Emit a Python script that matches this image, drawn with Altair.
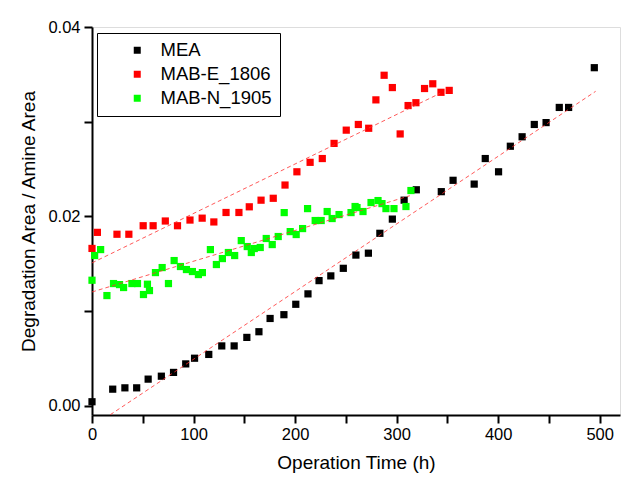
import altair as alt
import pandas as pd

# ---- data ----
mea_x = [0, 20.4, 32.4, 44, 55.3, 68.3, 80.3, 92.3, 101, 115, 127.8, 140, 152.5, 164.4,
         175.4, 189, 200.7, 212.7, 223.6, 235.2, 247.5, 259.9, 272.2, 283.5, 295.8, 307.4,
         319.4, 344, 355.6, 376.4, 387.3, 400.4, 412, 423.6, 435.6, 447.2, 460.2, 469.4, 494.7]
mea_y = [0.0004, 0.00173, 0.00187, 0.00187, 0.00279, 0.0031, 0.0035, 0.0044, 0.0050, 0.0054,
         0.0063, 0.0063, 0.0072, 0.0078, 0.0092, 0.0096, 0.0107, 0.0118, 0.0132, 0.0137,
         0.0145, 0.0159, 0.0161, 0.0182, 0.0197, 0.0217, 0.0228, 0.0226, 0.0238, 0.0234,
         0.0261, 0.0247, 0.0274, 0.0284, 0.0297, 0.0299, 0.0315, 0.0315, 0.0357]

mabe_x = [0, 5.3, 24.6, 36.3, 50.4, 60.2, 72.2, 84.2, 96.5, 108.5, 120, 132, 144.7, 154.9,
          166.5, 178.5, 190.1, 201.8, 214.8, 226.8, 238.4, 250.4, 262.3, 272.5, 279.6, 287.7,
          295.8, 303.5, 311.3, 319, 327.5, 335.6, 343.7, 351.8]
mabe_y = [0.0166, 0.0183, 0.0181, 0.0181, 0.0190, 0.0190, 0.0195, 0.0190, 0.0196, 0.0198,
          0.0194, 0.0204, 0.0204, 0.0210, 0.0217, 0.0219, 0.0233, 0.0247, 0.0257, 0.0261,
          0.0277, 0.0291, 0.0297, 0.0293, 0.0323, 0.0349, 0.0336, 0.0287, 0.0317, 0.0320,
          0.0335, 0.0340, 0.0331, 0.0333]

mabn_x = [0, 2.6, 8.5, 14.7, 21.2, 27.1, 31.1, 39.3, 44.8, 50.7, 54.6, 56.6, 62.5, 69.1, 75.3,
          80.9, 87.1, 93.0, 98.9, 104.8, 108.7, 116.6, 122.5, 128.4, 134.3, 140.5, 147.0,
          152.9, 156.9, 159.8, 165.7, 171.6, 177.5, 183.4, 189.3, 195.2, 201.1, 207.4, 212.3,
          219.8, 225.7, 231.6, 236.5, 243.3, 255.1, 259.1, 261.0, 266.9, 274.8, 281.7, 285.6,
          289.5, 297.4, 309.2, 314.1]
mabn_y = [0.01324, 0.01585, 0.01648, 0.01162, 0.01289, 0.01278, 0.01247, 0.01289, 0.01289,
          0.01173, 0.01282, 0.01215, 0.01405, 0.01458, 0.01289, 0.01532, 0.01469, 0.01437,
          0.01416, 0.01384, 0.01405, 0.01648, 0.0149, 0.01553, 0.01617, 0.01585, 0.01743,
          0.0168, 0.01617, 0.01659, 0.0167, 0.01765, 0.01701, 0.01786, 0.02039, 0.01838,
          0.01807, 0.0187, 0.02081, 0.01955, 0.01955, 0.0205, 0.01976, 0.02018, 0.02039,
          0.02103, 0.02092, 0.0205, 0.02145, 0.02166, 0.02134, 0.02081, 0.02081, 0.02103,
          0.02272]

series_names = ["MEA", "MAB-E_1806", "MAB-N_1905"]
series_colors = ["#000000", "#ff0000", "#00ff00"]

# linear fit lines (end points)
fit_names = ["MEA", "MEA", "MAB-E_1806", "MAB-E_1806", "MAB-N_1905", "MAB-N_1905"]
fit_x = [18, 496, 0, 343, 0, 313]
fit_y = [-0.00097, 0.0332, 0.01507, 0.0330, 0.0120, 0.02217]

x_ticks = [0, 50, 100, 150, 200, 250, 300, 350, 400, 450, 500]
y_ticks = [0.0, 0.01, 0.02, 0.03, 0.04]

# ---- tables ----
pts = pd.concat([
    pd.DataFrame({"t": mea_x, "v": mea_y, "s": series_names[0]}),
    pd.DataFrame({"t": mabe_x, "v": mabe_y, "s": series_names[1]}),
    pd.DataFrame({"t": mabn_x, "v": mabn_y, "s": series_names[2]}),
], ignore_index=True)
fits = pd.DataFrame({"t": fit_x, "v": fit_y, "s": fit_names})

FONT = "Liberation Sans"

xs = alt.X("t:Q", title="Operation Time (h)",
           scale=alt.Scale(domain=[0, 520], nice=False, zero=False),
           axis=alt.Axis(values=x_ticks,
                         labelExpr="datum.value % 100 == 0 ? datum.label : ''",
                         grid=False, tickSize=8, tickWidth=2, domainWidth=2,
                         domainColor="black", tickColor="black",
                         labelFontSize=16.5, titleFontSize=19, labelPadding=3,
                         titlePadding=11, labelColor="black", titleColor="black",
                         titleFontWeight="normal", labelFlush=False))
ys = alt.Y("v:Q", title="Degradation Area / Amine Area",
           scale=alt.Scale(domain=[-0.001, 0.04], nice=False, zero=False),
           axis=alt.Axis(values=y_ticks, format=".2f",
                         labelExpr="round(datum.value * 100) % 2 == 0 ? datum.label : ''",
                         grid=False, tickSize=8, tickWidth=2, domainWidth=2,
                         domainColor="black", tickColor="black",
                         labelFontSize=16.5, titleFontSize=19, labelPadding=4,
                         titlePadding=9, labelColor="black", titleColor="black",
                         titleFontWeight="normal", labelFlush=False))

color = alt.Color("s:N", scale=alt.Scale(domain=series_names, range=series_colors),
                  legend=alt.Legend(title=None, orient="none", legendX=5, legendY=6,
                                    symbolType="square", symbolSize=49,
                                    symbolStrokeWidth=0, labelFontSize=18.5,
                                    labelFont=FONT, labelColor="black",
                                    strokeColor="black", padding=8, rowPadding=5,
                                    symbolOffset=23, labelOffset=14))

points = alt.Chart(pts).mark_square(size=52, opacity=1, filled=True).encode(
    x=xs, y=ys, color=color)

lines = alt.Chart(fits).mark_line(color="#ff3030", strokeWidth=1, strokeDash=[4, 3],
                                  opacity=0.8, clip=True).encode(
    x="t:Q", y="v:Q", detail="s:N")

chart = alt.layer(points, lines).properties(
    width=528, height=388,
    autosize=alt.AutoSizeParams(type="none"),
    padding={"left": 84, "top": 19, "right": 15, "bottom": 60},
).configure_view(stroke="black", strokeWidth=2).configure(font=FONT)

chart.save("out.html", embed_options={"renderer": "svg", "actions": False})
